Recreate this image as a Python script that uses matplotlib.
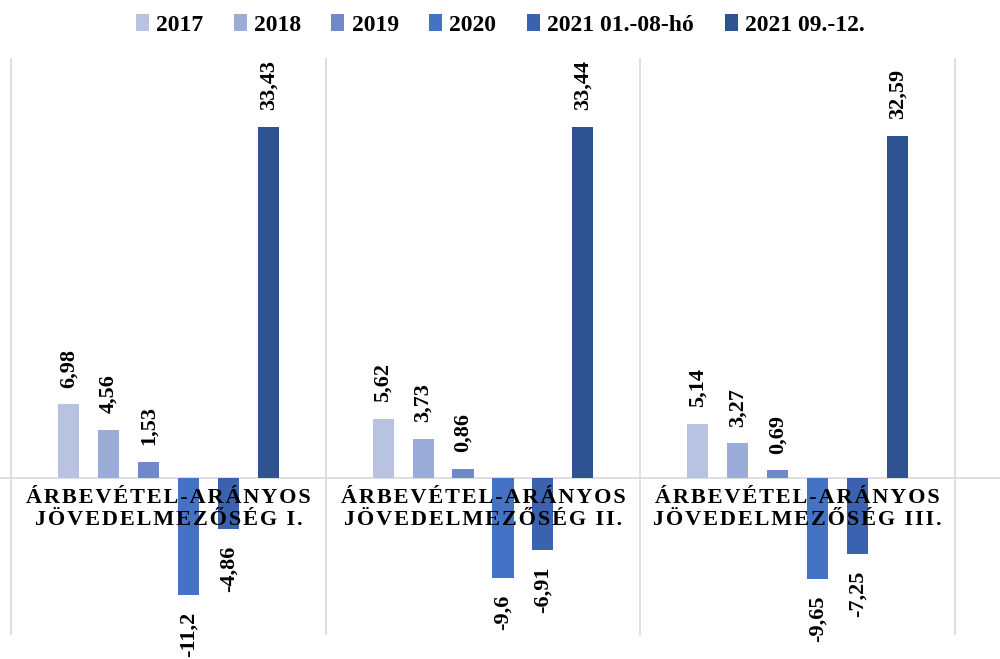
import matplotlib
matplotlib.use("Agg")
import matplotlib.pyplot as plt
import numpy as np

# data
categories = ["ÁRBEVÉTEL-ARÁNYOS\nJÖVEDELMEZŐSÉG I.",
              "ÁRBEVÉTEL-ARÁNYOS\nJÖVEDELMEZŐSÉG II.",
              "ÁRBEVÉTEL-ARÁNYOS\nJÖVEDELMEZŐSÉG III."]
seriesNames = ["2017", "2018", "2019", "2020", "2021 01.-08-hó", "2021 09.-12."]
v2017 = [6.98, 5.62, 5.14]
v2018 = [4.56, 3.73, 3.27]
v2019 = [1.53, 0.86, 0.69]
v2020 = [-11.2, -9.6, -9.65]
v2021a = [-4.86, -6.91, -7.25]
v2021b = [33.43, 33.44, 32.59]
labelText = [["6,98", "5,62", "5,14"], ["4,56", "3,73", "3,27"], ["1,53", "0,86", "0,69"],
             ["-11,2", "-9,6", "-9,65"], ["-4,86", "-6,91", "-7,25"], ["33,43", "33,44", "32,59"]]

colors = ["#B8C3E2", "#9BACD8", "#6F89CB", "#4472C4", "#3A62AE", "#2F5290"]
gridColor = "#D9D9D9"
serif = ["Liberation Serif", "DejaVu Serif"]

allSeries = [v2017, v2018, v2019, v2020, v2021a, v2021b]

fig = plt.figure(figsize=(10, 6.59), dpi=100)
ax = fig.add_axes([0, 0.0364, 1, 0.8756])

x = np.arange(len(categories))
step = 0.127
width = 0.067
for i, (vals, name) in enumerate(zip(allSeries, seriesNames)):
    pos = x + (i - 2.5) * step
    ax.bar(pos, vals, width=width, color=colors[i], label=name, zorder=3)
    for px, v, t in zip(pos, vals, labelText[i]):
        if v >= 0:
            ax.annotate(t, (px, v), xytext=(0, 12), textcoords="offset points",
                        rotation=90, ha="center", va="bottom", fontsize=16,
                        fontweight="bold", family=serif)
        else:
            ax.annotate(t, (px, v), xytext=(0, -12), textcoords="offset points",
                        rotation=90, ha="center", va="top", fontsize=16,
                        fontweight="bold", family=serif)

# category labels, letter-spaced like the original
for xi, cat in zip(x, categories):
    spaced = "\n".join("\u200a".join(line) for line in cat.split("\n"))
    ax.text(xi, -1.0, spaced, ha="center", va="top", fontsize=16, fontweight="bold",
            family=serif, linespacing=1.1, zorder=4)

for b in [-0.5, 0.5, 1.5, 2.5]:
    ax.axvline(b, color=gridColor, lw=1.2, zorder=1)
ax.axhline(0, color=gridColor, lw=1.2, zorder=2)

ax.set_xlim(-0.535, 2.643)
ax.set_ylim(-15, 40)
ax.axis("off")

leg = fig.legend(loc="center", bbox_to_anchor=(0.5, 0.962), ncol=6, frameon=False,
                 prop={"family": serif, "weight": "bold", "size": 17},
                 handlelength=0.55, handleheight=0.7, handletextpad=0.3, columnspacing=1.3)

fig.savefig("out.png", dpi=100)
